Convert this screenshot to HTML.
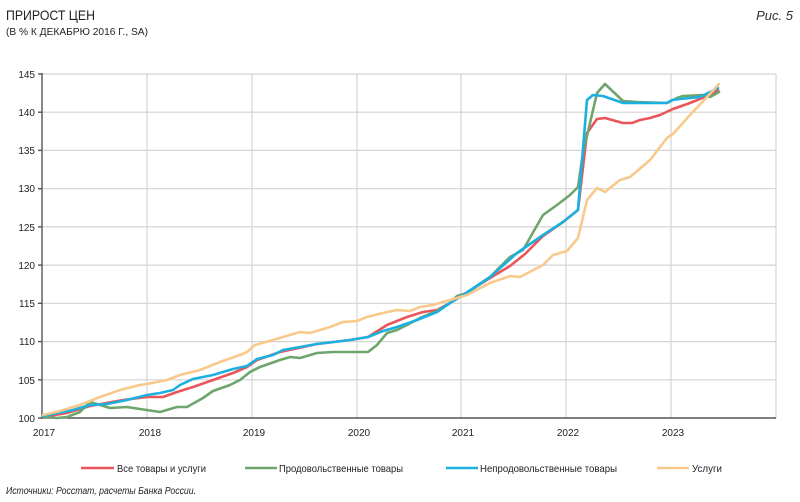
<!DOCTYPE html>
<html><head><meta charset="utf-8"><style>
html,body{margin:0;padding:0;background:#fff;}
svg{display:block;font-family:"Liberation Sans","DejaVu Sans",sans-serif;}
</style></head><body>
<svg width="800" height="502" viewBox="0 0 800 502" xmlns="http://www.w3.org/2000/svg">
<rect width="800" height="502" fill="#fff"/>
<text x="6" y="20" font-size="14" fill="#222" textLength="89" lengthAdjust="spacingAndGlyphs">ПРИРОСТ ЦЕН</text>
<text x="6" y="35" font-size="10.5" fill="#222" textLength="142" lengthAdjust="spacingAndGlyphs">(В % К ДЕКАБРЮ 2016 Г., SA)</text>
<text x="793" y="20" font-size="13" font-style="italic" fill="#333" text-anchor="end">Рис. 5</text>

<!-- grid -->
<g stroke="#d4d4d4" stroke-width="1.2" fill="none">
<line x1="42" y1="74" x2="776" y2="74"/>
<line x1="42" y1="112.2" x2="776" y2="112.2"/>
<line x1="42" y1="150.4" x2="776" y2="150.4"/>
<line x1="42" y1="188.7" x2="776" y2="188.7"/>
<line x1="42" y1="226.9" x2="776" y2="226.9"/>
<line x1="42" y1="265.1" x2="776" y2="265.1"/>
<line x1="42" y1="303.3" x2="776" y2="303.3"/>
<line x1="42" y1="341.6" x2="776" y2="341.6"/>
<line x1="42" y1="379.8" x2="776" y2="379.8"/>
<line x1="147" y1="74" x2="147" y2="418"/>
<line x1="252" y1="74" x2="252" y2="418"/>
<line x1="357" y1="74" x2="357" y2="418"/>
<line x1="461" y1="74" x2="461" y2="418"/>
<line x1="566" y1="74" x2="566" y2="418"/>
<line x1="671" y1="74" x2="671" y2="418"/>
<line x1="776" y1="74" x2="776" y2="418"/>
</g>
<!-- axes -->
<g stroke="#555" stroke-width="1.4">
<line x1="42" y1="73" x2="42" y2="419"/>
<line x1="42" y1="418" x2="776" y2="418"/>
<line x1="38" y1="74" x2="42" y2="74"/>
<line x1="38" y1="112.2" x2="42" y2="112.2"/>
<line x1="38" y1="150.4" x2="42" y2="150.4"/>
<line x1="38" y1="188.7" x2="42" y2="188.7"/>
<line x1="38" y1="226.9" x2="42" y2="226.9"/>
<line x1="38" y1="265.1" x2="42" y2="265.1"/>
<line x1="38" y1="303.3" x2="42" y2="303.3"/>
<line x1="38" y1="341.6" x2="42" y2="341.6"/>
<line x1="38" y1="379.8" x2="42" y2="379.8"/>
<line x1="38" y1="418" x2="42" y2="418"/>
</g>
<g font-size="10" fill="#222" text-anchor="end">
<text x="35" y="78">145</text>
<text x="35" y="116">140</text>
<text x="35" y="154">135</text>
<text x="35" y="192">130</text>
<text x="35" y="231">125</text>
<text x="35" y="269">120</text>
<text x="35" y="307">115</text>
<text x="35" y="345">110</text>
<text x="35" y="384">105</text>
<text x="35" y="422">100</text>
</g>
<g font-size="10" fill="#222" text-anchor="middle">
<text x="44" y="436">2017</text>
<text x="150" y="436">2018</text>
<text x="254" y="436">2019</text>
<text x="359" y="436">2020</text>
<text x="463" y="436">2021</text>
<text x="568" y="436">2022</text>
<text x="673" y="436">2023</text>
</g>

<g fill="none" stroke-width="2.6" stroke-linejoin="round" stroke-linecap="round">
<polyline stroke="#E9555B" points="43,417 67,413 90,406 123,400 147,397 163,397 177,392 193,387 213,380 233,373 247,367 257,360 280,352 317,344 350,340 368,337 387,325 407,317 423,312 437,310 450,303 463,295 490,278 510,266 525,254 543,236 563,222 578,210 587,133 597,119 605,118 623,123 632,123 640,120 650,118 660,115 673,109 690,103 707,96 718,90"/>
<polyline stroke="#6EA56C" points="43,417 57,418 67,417 80,412 90,402 100,405 110,408 127,407 140,409 160,412 177,407 187,407 203,398 213,391 230,385 240,380 250,372 260,367 280,360 290,357 300,358 317,353 333,352 368,352 377,345 387,333 397,330 407,325 420,318 437,311 450,303 457,296 467,293 490,277 510,257 523,250 543,215 557,205 570,195 578,187 583,153 597,93 605,84 623,101 637,102 667,103 677,98 683,96 703,95 710,97 719,92"/>
<polyline stroke="#1BB0DF" points="43,416 73,410 90,405 107,404 127,400 147,395 160,393 173,390 180,385 193,379 213,375 233,369 247,366 257,359 273,355 283,350 317,344 350,340 368,337 383,331 397,327 417,320 437,312 450,303 463,295 490,277 517,253 543,235 563,222 578,210 587,100 593,95 603,96 623,103 637,103 667,103 672,100 680,99 700,97 718,88"/>
<polyline stroke="#F9C98C" points="43,415 60,411 80,405 100,397 120,390 140,385 147,384 167,380 180,375 200,370 220,362 240,355 247,352 255,345 273,340 283,337 300,332 310,333 330,327 343,322 357,321 367,317 383,313 397,310 410,311 420,307 433,305 443,302 457,298 467,295 490,283 510,276 520,277 543,265 553,255 567,251 578,238 587,200 597,188 605,192 620,180 630,177 650,160 667,138 673,134 690,115 707,97 719,84"/>
</g>

<!-- legend -->
<g stroke-width="2.6">
<line x1="81" y1="468" x2="114" y2="468" stroke="#E9555B"/>
<line x1="245" y1="468" x2="277" y2="468" stroke="#6EA56C"/>
<line x1="446" y1="468" x2="478" y2="468" stroke="#1BB0DF"/>
<line x1="657" y1="468" x2="689" y2="468" stroke="#F9C98C"/>
</g>
<g font-size="10.5" fill="#222">
<text x="117" y="472" textLength="89" lengthAdjust="spacingAndGlyphs">Все товары и услуги</text>
<text x="279" y="472" textLength="124" lengthAdjust="spacingAndGlyphs">Продовольственные товары</text>
<text x="480" y="472" textLength="137" lengthAdjust="spacingAndGlyphs">Непродовольственные товары</text>
<text x="692" y="472" textLength="30" lengthAdjust="spacingAndGlyphs">Услуги</text>
</g>
<text x="6" y="494" font-size="10" font-style="italic" fill="#222" textLength="190" lengthAdjust="spacingAndGlyphs">Источники: Росстат, расчеты Банка России.</text>
</svg>
</body></html>
